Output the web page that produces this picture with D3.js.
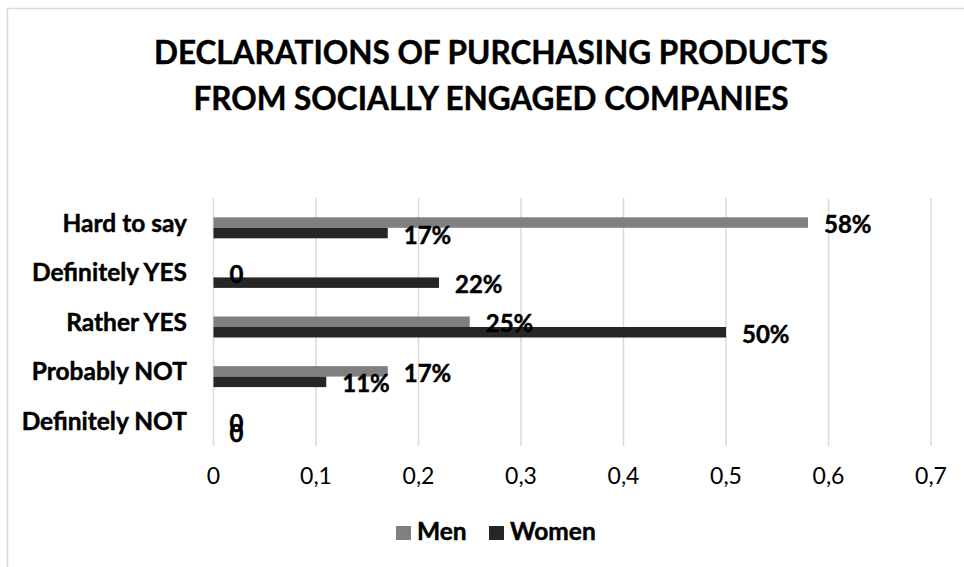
<!DOCTYPE html>
<html>
<head>
<meta charset="utf-8">
<script src="https://cdn.jsdelivr.net/npm/d3@7"></script>
<style>
  html, body { margin: 0; padding: 0; background: #fff; }
  svg { display: block; }
  text { font-family: Lato, "Open Sans", sans-serif; fill: #000; }
  text.heavy { font-weight: 700; stroke: #000; stroke-width: 0.45px; }
</style>
</head>
<body>
<svg id="chart" width="964" height="567"></svg>
<script>
// Answer categories, listed top to bottom
const categories = ["Hard to say", "Definitely YES", "Rather YES", "Probably NOT", "Definitely NOT"];
// Share of respondents per answer
const menValues   = [0.58, 0, 0.25, 0.17, 0];
const womenValues = [0.17, 0.22, 0.50, 0.11, 0];
const seriesNames = ["Men", "Women"];
const xTicks = [0, 0.1, 0.2, 0.3, 0.4, 0.5, 0.6, 0.7];
const titleLines = ["DECLARATIONS OF PURCHASING PRODUCTS", "FROM SOCIALLY ENGAGED COMPANIES"];

const colors = { Men: "#808080", Women: "#262626" };
const gridColor = "#d9d9d9";

const svg = d3.select("#chart");

// Chart frame
svg.append("rect")
  .attr("x", 7.5).attr("y", 8.5)
  .attr("width", 1000).attr("height", 1000)
  .attr("fill", "#fff").attr("stroke", gridColor).attr("stroke-width", 1.5);

// Title
const title = svg.append("text")
  .attr("class", "heavy")
  .attr("text-anchor", "middle")
  .attr("font-size", 31.5);
titleLines.forEach((line, i) => {
  title.append("tspan").attr("x", 491).attr("y", 64 + i * 46).text(line);
});

const plot = { left: 213.5, right: 931, top: 198, bottom: 446 };

const x = d3.scaleLinear().domain([0, 0.7]).range([plot.left, plot.right]);
const y = d3.scaleBand().domain(categories).range([plot.top, plot.bottom]);
const sub = d3.scaleBand().domain(seriesNames).range([0, 21]);
const barShift = y.bandwidth() / 2 - sub.range()[1] / 2 + 5;

// Vertical gridlines
svg.append("g").selectAll("line").data(xTicks).join("line")
  .attr("x1", d => x(d)).attr("x2", d => x(d))
  .attr("y1", plot.top).attr("y2", plot.bottom)
  .attr("stroke", gridColor).attr("stroke-width", 1.5);

// Value axis labels
const fmtTick = d => d3.format(".1~f")(d).replace(".", ",");
svg.append("g").selectAll("text").data(xTicks).join("text")
  .attr("x", d => x(d)).attr("y", 484)
  .attr("text-anchor", "middle")
  .attr("font-size", 23)
  .text(fmtTick);

// Category labels
svg.append("g").selectAll("text").data(categories).join("text")
  .attr("class", "heavy")
  .attr("x", 187)
  .attr("y", d => y(d) + y.bandwidth() / 2)
  .attr("dy", "0.36em")
  .attr("text-anchor", "end")
  .attr("font-size", 24.5)
  .text(d => d);

const rows = [];
categories.forEach((c, i) => {
  rows.push({ cat: c, series: "Men", value: menValues[i] });
  rows.push({ cat: c, series: "Women", value: womenValues[i] });
});

// Bars
svg.append("g").selectAll("rect").data(rows).join("rect")
  .attr("x", x(0))
  .attr("y", d => y(d.cat) + barShift + sub(d.series))
  .attr("width", d => x(d.value) - x(0))
  .attr("height", sub.bandwidth())
  .attr("fill", d => colors[d.series]);

// Value labels
const fmtVal = v => v === 0 ? "0" : d3.format(".0%")(v);
svg.append("g").selectAll("text").data(rows).join("text")
  .attr("class", "heavy")
  .attr("x", d => x(d.value) + 16)
  .attr("y", d => y(d.cat) + barShift + sub(d.series) + sub.bandwidth() / 2 + 2)
  .attr("dy", "0.36em")
  .attr("font-size", 24)
  .text(d => fmtVal(d.value));

// Legend
const legend = svg.append("g");
const legendItems = [{ name: "Men", x: 396 }, { name: "Women", x: 489 }];
legendItems.forEach(item => {
  legend.append("rect")
    .attr("x", item.x).attr("y", 526)
    .attr("width", 15).attr("height", 14)
    .attr("fill", colors[item.name]);
  legend.append("text")
    .attr("class", "heavy")
    .attr("x", item.x + 21).attr("y", 540)
    .attr("font-size", 24.5)
    .text(item.name);
});
</script>
</body>
</html>
